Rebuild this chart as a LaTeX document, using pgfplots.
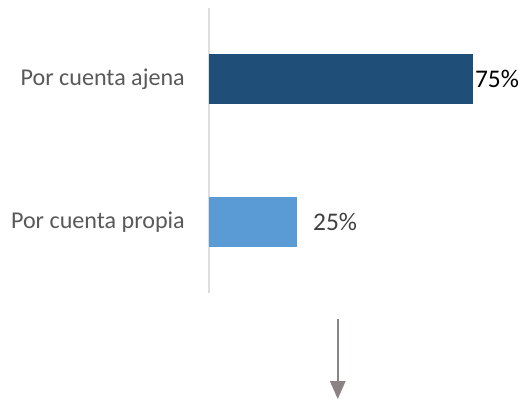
\documentclass[border=0pt]{standalone}
\usepackage{fontspec}
\setmainfont{Carlito}
\usepackage{pgfplots}
\pgfplotsset{compat=1.18}
\usetikzlibrary{arrows.meta}
\definecolor{darkbar}{HTML}{1F4E79}
\definecolor{lightbar}{HTML}{5B9BD5}
\definecolor{labgray}{HTML}{595959}
\definecolor{arrowgray}{RGB}{140,132,132}
\begin{document}
\begin{tikzpicture}
\begin{axis}[
    xbar,
    scale only axis,
    width=264bp, height=285bp,
    xmin=0, xmax=75,
    ymin=0, ymax=2,
    bar width=50bp,
    bar shift=0pt,
    clip=false,
    axis x line=none,
    axis y line*=left,
    y axis line style={-, draw=black!13, line width=1.2bp},
    ytick={0.5,1.5},
    yticklabels={Por cuenta propia, Por cuenta ajena},
    ytick style={draw=none},
    major tick length=0pt,
    yticklabel style={font=\fontsize{24.2}{26}\selectfont, text=labgray, anchor=east, inner sep=0pt, xshift=-24bp},
    /pgf/number format/assume math mode=true,
    nodes near coords={\pgfmathprintnumber{\pgfplotspointmeta}\%},
    nodes near coords style={font=\fontsize{25.5}{28}\selectfont, anchor=west},
]
\addplot[fill=darkbar, draw=none, nodes near coords style={text=black, inner sep=2bp}] coordinates {(75,1.5)};
\addplot[fill=lightbar, draw=none, nodes near coords style={text=black!75, inner sep=0pt, xshift=16bp}] coordinates {(25,0.5)};
\coordinate (bl) at (axis cs:-59.375,-0.7606);
\coordinate (tr) at (axis cs:88.64,2.056);
\draw[arrowgray, line width=2.5bp, -{Triangle[width=15bp,length=18bp]}] (axis cs:36.6,-0.183) -- (axis cs:36.6,-0.746);
\end{axis}
\path (bl) rectangle (tr);
\end{tikzpicture}
\end{document}
